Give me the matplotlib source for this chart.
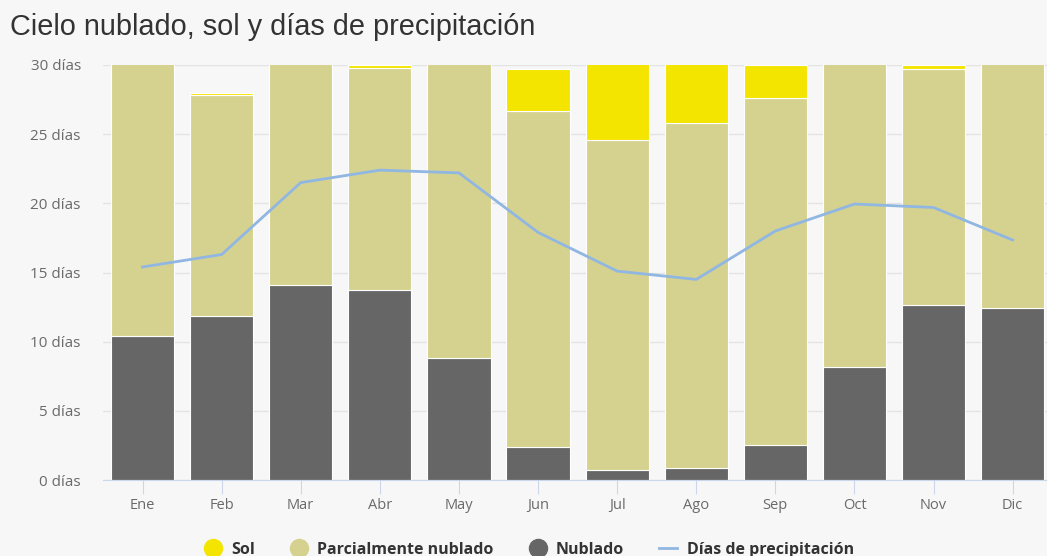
import numpy as np
import matplotlib
matplotlib.use("Agg")
import matplotlib.pyplot as plt
from matplotlib.lines import Line2D

months = ["Ene", "Feb", "Mar", "Abr", "May", "Jun", "Jul", "Ago", "Sep", "Oct", "Nov", "Dic"]
nublado = [10.4, 11.85, 14.1, 13.7, 8.8, 2.4, 0.7, 0.9, 2.5, 8.2, 12.65, 12.4]
parcial = [20.6, 15.95, 16.9, 16.1, 22.2, 24.3, 23.9, 24.9, 25.1, 22.8, 17.05, 18.6]
sol = [0.0, 0.2, 0.0, 0.2, 0.0, 3.0, 6.4, 5.2, 2.4, 0.0, 0.3, 0.0]
precip = [15.4, 16.3, 21.5, 22.4, 22.2, 17.9, 15.1, 14.5, 18.0, 19.95, 19.7, 17.35]
yticks = [0, 5, 10, 15, 20, 25, 30]

c_sol = "#f4e500"
c_par = "#d5d290"
c_nub = "#666666"
c_line = "#90b6e2"
bg = "#f7f7f7"

W, H = 1047, 556
fig = plt.figure(figsize=(W / 100, H / 100), dpi=100, facecolor=bg)
ax = fig.add_axes([103 / W, (H - 480) / H, (W - 103) / W, (480 - 65) / H])
ax.set_facecolor(bg)

x = np.arange(len(months))
nub = np.array(nublado)
par = np.array(parcial)
so = np.array(sol)
kw = dict(width=0.8, edgecolor="white", linewidth=0.8, zorder=2)
ax.bar(x, nub, color=c_nub, **kw)
ax.bar(x, par, bottom=nub, color=c_par, **kw)
ax.bar(x, so, bottom=nub + par, color=c_sol, **kw)

ax.plot(x, precip, color=c_line, linewidth=2, solid_joinstyle="round", zorder=3)

ax.set_ylim(0, 30)
ax.set_xlim(-0.5, -0.5 + (W - 103) / 79.1)
ax.set_yticks(yticks)
ax.set_yticklabels([f"{v} días" for v in yticks], fontfamily="Open Sans", fontsize=11, color="#6a6a6a")
ax.set_xticks(x)
ax.set_xticklabels(months, fontfamily="Open Sans", fontsize=10.5, color="#6a6a6a")
ax.grid(axis="y", color="#e3e3e3", linewidth=1, zorder=0)
ax.set_axisbelow(True)
for s in ["top", "right", "left"]:
    ax.spines[s].set_visible(False)
ax.spines["bottom"].set_color("#ccd6eb")
ax.tick_params(axis="y", length=0, pad=16)
ax.tick_params(axis="x", length=10, color="#ccd6eb", pad=3)

fig.text(10 / W, 1 - 27 / H, "Cielo nublado, sol y días de precipitación", fontfamily="Liberation Sans",
         fontsize=20.8, color="#333333", va="center", ha="left")

handles = [
    Line2D([], [], marker="o", linestyle="none", markersize=13, color=c_sol),
    Line2D([], [], marker="o", linestyle="none", markersize=13, color=c_par),
    Line2D([], [], marker="o", linestyle="none", markersize=13, color=c_nub),
    Line2D([], [], color=c_line, linewidth=2),
]
labels = ["Sol", "Parcialmente nublado", "Nublado", "Días de precipitación"]
fig.legend(handles, labels, loc="center", bbox_to_anchor=(529 / W, 1 - 550 / H), ncol=4, frameon=False,
           prop={"family": "Open Sans", "weight": "bold", "size": 11.5}, handlelength=1.1, handletextpad=0.6,
           columnspacing=2.2, labelcolor="#333333")

fig.savefig("out.png", dpi=100, facecolor=bg)
